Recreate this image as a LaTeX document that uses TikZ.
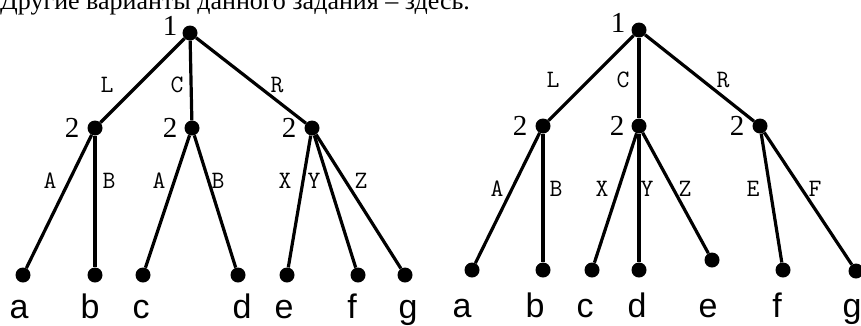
\documentclass[tikz,border=0pt]{standalone}
\usepackage{fontspec}
\setmainfont{Liberation Serif}
\newfontfamily\leaffont{Liberation Sans}
\usetikzlibrary{positioning}
\tikzset{
  vert/.style={circle,fill,inner sep=0pt,minimum size=15pt},
  edge/.style={line width=3.2pt},
  lvl/.style={font=\fontsize{29}{29}\selectfont},
  elab/.style={font=\ttfamily\fontsize{25}{25}\selectfont},
  leaf/.style={font=\leaffont\fontsize{34}{34}\selectfont,anchor=base}
}

\begin{document}
\begin{tikzpicture}[x=1pt,y=-1pt]
  \useasboundingbox (0,0) rectangle (861,325);
  \clip (0,0) rectangle (861,325);
  \node[anchor=base west,inner sep=0pt,font=\fontsize{26}{26}\selectfont] (hdr) at (0,9)
    {Другие варианты данного задания – здесь.};

  % first tree
  \node[vert] (r1) at (190,33) {};
  \node[vert] (m1l) at (95,128) {};
  \node[vert] (m1c) at (192,128) {};
  \node[vert] (m1r) at (312,128) {};
  \node[vert] (a1) at (23,275) {};
  \node[vert] (b1) at (95,275) {};
  \node[vert] (c1) at (143,275) {};
  \node[vert] (d1) at (238,275) {};
  \node[vert] (e1) at (287,275) {};
  \node[vert] (f1) at (358,275) {};
  \node[vert] (g1) at (405,275) {};

  \draw[edge] (r1)--(m1l);
  \draw[edge] (r1)--(m1c);
  \draw[edge] (r1)--(m1r);
  \draw[edge] (m1l)--(a1);
  \draw[edge] (m1l)--(b1);
  \draw[edge] (m1c)--(c1);
  \draw[edge] (m1c)--(d1);
  \draw[edge] (m1r)--(e1);
  \draw[edge] (m1r)--(f1);
  \draw[edge] (m1r)--(g1);

  \node[lvl] (t1) at (170,26) {1};
  \node[lvl] (t1l) at (72,128) {2};
  \node[lvl] (t1c) at (170,128) {2};
  \node[lvl] (t1r) at (289,128) {2};

  \node[elab] (l1) at (107,85) {L};
  \node[elab] (k1) at (177,85) {C};
  \node[elab] (q1) at (277,85) {R};
  \node[elab] (xa1) at (50,181) {A};
  \node[elab] (xb1) at (109,181) {B};
  \node[elab] (ya1) at (159,181) {A};
  \node[elab] (yb1) at (218,181) {B};
  \node[elab] (zx1) at (285,181) {X};
  \node[elab] (zy1) at (314,181) {Y};
  \node[elab] (zz1) at (361,181) {Z};

  \node[leaf] (la1) at (19,318) {a};
  \node[leaf] (lb1) at (90,318) {b};
  \node[leaf] (lc1) at (141,318) {c};
  \node[leaf] (ld1) at (242,318) {d};
  \node[leaf] (le1) at (284,318) {e};
  \node[leaf] (lf1) at (352,318) {f};
  \node[leaf] (lg1) at (408,318) {g};

  % second tree
  \node[vert] (r2) at (639,30) {};
  \node[vert] (m2l) at (543,126) {};
  \node[vert] (m2c) at (639,126) {};
  \node[vert] (m2r) at (760,126) {};
  \node[vert] (a2) at (472,270) {};
  \node[vert] (b2) at (543,270) {};
  \node[vert] (c2) at (592,270) {};
  \node[vert] (d2) at (639,270) {};
  \node[vert] (e2) at (712,260) {};
  \node[vert] (f2) at (783,270) {};
  \node[vert] (g2) at (856,271) {};

  \draw[edge] (r2)--(m2l);
  \draw[edge] (r2)--(m2c);
  \draw[edge] (r2)--(m2r);
  \draw[edge] (m2l)--(a2);
  \draw[edge] (m2l)--(b2);
  \draw[edge] (m2c)--(c2);
  \draw[edge] (m2c)--(d2);
  \draw[edge] (m2c)--(e2);
  \draw[edge] (m2r)--(f2);
  \draw[edge] (m2r)--(g2);

  \node[lvl] (t2) at (618,23) {1};
  \node[lvl] (t2l) at (520,126) {2};
  \node[lvl] (t2c) at (617,126) {2};
  \node[lvl] (t2r) at (737,126) {2};

  \node[elab] (l2) at (553,80) {L};
  \node[elab] (k2) at (623,80) {C};
  \node[elab] (q2) at (723,80) {R};
  \node[elab] (xa2) at (497,189) {A};
  \node[elab] (xb2) at (556,189) {B};
  \node[elab] (yx2) at (602,189) {X};
  \node[elab] (yy2) at (647,189) {Y};
  \node[elab] (yz2) at (685,189) {Z};
  \node[elab] (ze2) at (753,189) {E};
  \node[elab] (zf2) at (815,189) {F};

  \node[leaf] (la2) at (462,317) {a};
  \node[leaf] (lb2) at (535,317) {b};
  \node[leaf] (lc2) at (585,317) {c};
  \node[leaf] (ld2) at (637,317) {d};
  \node[leaf] (le2) at (708,317) {e};
  \node[leaf] (lf2) at (777,317) {f};
  \node[leaf] (lg2) at (852,317) {g};
\end{tikzpicture}
\end{document}
